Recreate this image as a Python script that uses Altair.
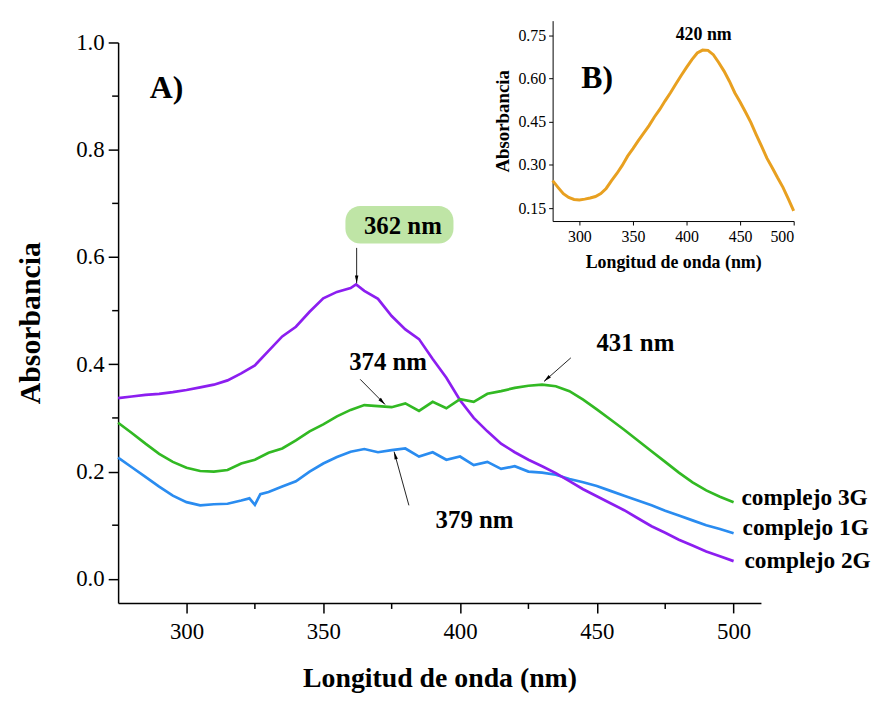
import altair as alt
import pandas as pd

# ---------------- Panel A data ----------------
series_names = ["complejo 1G", "complejo 2G", "complejo 3G"]
series_colors = ["#2A8CF0", "#8C1EF0", "#32B923"]

wl_1g = [275, 280, 285, 290, 295, 300, 305, 310, 315, 320, 323, 325, 327,
         330, 335, 340, 345, 350, 355, 360, 365, 370, 375, 380,
         385, 390, 395, 400, 405, 410, 415, 420, 425, 430, 435, 440,
         445, 450, 455, 460, 465, 470, 475, 480, 485, 490, 495, 500]
abs_1g = [0.226, 0.208, 0.190, 0.172, 0.155, 0.143, 0.137, 0.139, 0.140, 0.146, 0.150, 0.138, 0.158,
          0.162, 0.172, 0.182, 0.200, 0.215, 0.227, 0.237, 0.242, 0.236, 0.240, 0.243,
          0.228, 0.236, 0.222, 0.228, 0.212, 0.218, 0.205, 0.210, 0.200, 0.198, 0.194, 0.186,
          0.180, 0.173, 0.164, 0.155, 0.146, 0.137, 0.127, 0.118, 0.109, 0.100, 0.093, 0.085]

wl_2g = [275, 280, 285, 290, 295, 300, 305, 310, 315, 320, 325, 330, 335, 340, 345, 350,
         355, 360, 362, 365, 370, 375, 380, 385, 390, 395, 400, 405, 410, 415, 420, 425,
         430, 435, 440, 445, 450, 455, 460, 465, 470, 475, 480, 485, 490, 495, 500]
abs_2g = [0.337, 0.340, 0.343, 0.345, 0.348, 0.352, 0.357, 0.362, 0.370, 0.383, 0.398, 0.425,
          0.452, 0.470, 0.498, 0.523, 0.535, 0.542, 0.549, 0.537, 0.522, 0.490, 0.465, 0.447,
          0.410, 0.375, 0.333, 0.300, 0.275, 0.252, 0.236, 0.222, 0.210, 0.197, 0.182, 0.167,
          0.154, 0.141, 0.128, 0.113, 0.098, 0.086, 0.073, 0.062, 0.051, 0.042, 0.033]

wl_3g = list(range(275, 501, 5))
abs_3g = [0.291, 0.272, 0.252, 0.233, 0.218, 0.207, 0.201, 0.200, 0.203, 0.215,
          0.222, 0.235, 0.243, 0.258, 0.275, 0.288, 0.303, 0.315, 0.324, 0.322,
          0.320, 0.327, 0.313, 0.330, 0.318, 0.335, 0.330, 0.345, 0.350, 0.356,
          0.360, 0.362, 0.359, 0.350, 0.334, 0.316, 0.297, 0.278, 0.258, 0.238,
          0.218, 0.198, 0.180, 0.165, 0.153, 0.143]

x_ticks_a = [300, 350, 400, 450, 500]
x_minor_a = [325, 375, 425, 475]
y_ticks_a = [0.0, 0.2, 0.4, 0.6, 0.8, 1.0]
y_minor_a = [0.1, 0.3, 0.5, 0.7, 0.9]

# annotations (data units of panel A)
ann_text = ["374 nm", "379 nm", "431 nm"]
ann_x = [373.7, 405.3, 464.1]
ann_y = [0.405, 0.109, 0.440]

panel_a_label = ["A)"]
panel_a_x = [292.7]
panel_a_y = [0.915]

peak_label = ["362 nm"]
peak_x = [379.1]
peak_y = [0.658]
box_x0, box_x1, box_y0, box_y1 = [358.1], [397.6], [0.625], [0.695]

arrow_x0 = [362.2, 363.5, 381.3, 440.5]
arrow_y0 = [0.617, 0.372, 0.137, 0.412]
arrow_x1 = [362.2, 372.6, 375.9, 430.7]
arrow_y1 = [0.551, 0.325, 0.237, 0.368]
arrow_angle = [180, 135, 344, 228]

legend_x = [502.9, 503.3, 504.0]
legend_y = [0.150, 0.094, 0.033]
legend_text = ["complejo 3G", "complejo 1G", "complejo 2G"]

# ---------------- Panel B data ----------------
wl_b = list(range(275, 501, 5))
abs_b = [0.245, 0.222, 0.200, 0.187, 0.180, 0.178, 0.181, 0.185, 0.190, 0.200,
         0.218, 0.245, 0.270, 0.298, 0.330, 0.356, 0.384, 0.410, 0.436, 0.466,
         0.492, 0.522, 0.550, 0.580, 0.610, 0.638, 0.665, 0.688, 0.698, 0.697,
         0.682, 0.655, 0.625, 0.590, 0.550, 0.518, 0.483, 0.447, 0.405, 0.365,
         0.323, 0.290, 0.255, 0.222, 0.182, 0.140]
x_ticks_b = [300, 350, 400, 450, 500]
y_ticks_b = [0.15, 0.30, 0.45, 0.60, 0.75]
b_text = ["B)", "420 nm"]
b_x = [316.5, 416]
b_y = [0.600, 0.750]

FONT = "Liberation Serif"
W, H = 648, 565

# ---------------- build tables ----------------
rows = []
for name, wl, ab in [("complejo 1G", wl_1g, abs_1g), ("complejo 2G", wl_2g, abs_2g), ("complejo 3G", wl_3g, abs_3g)]:
    for w, a in zip(wl, ab):
        rows.append({"nm": w, "abs": a, "serie": name})
df_main = pd.DataFrame(rows)

def xs():
    return alt.Scale(domain=[275, 510], nice=False, zero=False)

def ys():
    return alt.Scale(domain=[-0.045, 1.0], nice=False, zero=False)

x_axis = alt.Axis(title="Longitud de onda (nm)", values=x_ticks_a,
                  tickSize=10, tickWidth=1.5, tickColor="black", domainColor="black", domainWidth=1.5,
                  labelFont=FONT, labelFontSize=23, labelColor="black", labelPadding=8,
                  titleFont=FONT, titleFontSize=28, titleFontWeight="bold", titleColor="black",
                  titlePadding=21)
y_axis = alt.Axis(title="Absorbancia", values=y_ticks_a, format=".1f",
                  tickSize=10, tickWidth=1.5, tickColor="black", domainColor="black", domainWidth=1.5,
                  labelFont=FONT, labelFontSize=23, labelColor="black", labelPadding=4,
                  titleFont=FONT, titleFontSize=30, titleFontWeight="bold", titleColor="black",
                  titlePadding=30)

lines = alt.Chart(df_main).mark_line(strokeWidth=2.7).encode(
    x=alt.X("nm:Q", scale=xs(), axis=x_axis),
    y=alt.Y("abs:Q", scale=ys(), axis=y_axis),
    color=alt.Color("serie:N", scale=alt.Scale(domain=series_names, range=series_colors), legend=None),
)

minor_x = alt.Chart(pd.DataFrame({"nm": x_minor_a})).mark_rule(color="black", strokeWidth=1.5).encode(
    x=alt.X("nm:Q", scale=xs(), axis=None), y=alt.value(H), y2=alt.value(H + 6))
minor_y = alt.Chart(pd.DataFrame({"abs": y_minor_a})).mark_rule(color="black", strokeWidth=1.5).encode(
    y=alt.Y("abs:Q", scale=ys(), axis=None), x=alt.value(0), x2=alt.value(-6))

box = alt.Chart(pd.DataFrame({"nm": box_x0, "nm2": box_x1, "abs": box_y0, "abs2": box_y1})).mark_rect(
    cornerRadius=15, color="#bfe5a6").encode(
    x=alt.X("nm:Q", scale=xs(), axis=None), x2="nm2:Q",
    y=alt.Y("abs:Q", scale=ys(), axis=None), y2="abs2:Q")

peak_txt = alt.Chart(pd.DataFrame({"nm": peak_x, "abs": peak_y, "t": peak_label})).mark_text(
    font=FONT, fontSize=25, fontWeight="bold", color="black", align="center", baseline="middle").encode(
    x=alt.X("nm:Q", scale=xs(), axis=None), y=alt.Y("abs:Q", scale=ys(), axis=None), text="t:N")

ann = alt.Chart(pd.DataFrame({"nm": ann_x, "abs": ann_y, "t": ann_text})).mark_text(
    font=FONT, fontSize=25, fontWeight="bold", color="black", align="center", baseline="middle").encode(
    x=alt.X("nm:Q", scale=xs(), axis=None), y=alt.Y("abs:Q", scale=ys(), axis=None), text="t:N")

a_txt = alt.Chart(pd.DataFrame({"nm": panel_a_x, "abs": panel_a_y, "t": panel_a_label})).mark_text(
    font=FONT, fontSize=32, fontWeight="bold", color="black", align="center", baseline="middle").encode(
    x=alt.X("nm:Q", scale=xs(), axis=None), y=alt.Y("abs:Q", scale=ys(), axis=None), text="t:N")

df_arr = pd.DataFrame({"nm": arrow_x0, "abs": arrow_y0, "nm2": arrow_x1, "abs2": arrow_y1, "ang": arrow_angle})
arrow_lines = alt.Chart(df_arr).mark_rule(color="#222222", strokeWidth=1).encode(
    x=alt.X("nm:Q", scale=xs(), axis=None), x2="nm2:Q",
    y=alt.Y("abs:Q", scale=ys(), axis=None), y2="abs2:Q")
arrow_heads = alt.Chart(df_arr).mark_point(
    shape="M0,0L-0.45,2L0.45,2Z", filled=True, size=60, color="black", opacity=1).encode(
    x=alt.X("nm2:Q", scale=xs(), axis=None), y=alt.Y("abs2:Q", scale=ys(), axis=None),
    angle=alt.Angle("ang:Q", scale=None))

legend_txt = alt.Chart(pd.DataFrame({"nm": legend_x, "abs": legend_y, "t": legend_text})).mark_text(
    font=FONT, fontSize=23.5, fontWeight="bold", color="black", align="left", baseline="middle").encode(
    x=alt.X("nm:Q", scale=xs(), axis=None), y=alt.Y("abs:Q", scale=ys(), axis=None), text="t:N")

# ---------------- inset (panel B) ----------------
def xs_b():
    return alt.Scale(domain=[275, 500], range=[438, 681], nice=False, zero=False)

def ys_b():
    return alt.Scale(domain=[0.105, 0.80], range=[180, -22], nice=False, zero=False)

xb_axis = alt.Axis(orient="bottom", offset=-(H - 180), title="Longitud de onda (nm)", values=x_ticks_b,
                   tickSize=4, tickColor="black", domainColor="black", domainWidth=1,
                   labelFont=FONT, labelFontSize=16, labelColor="black", labelPadding=4,
                   titleFont=FONT, titleFontSize=18, titleFontWeight="bold", titleColor="black",
                   titlePadding=9)
yb_axis = alt.Axis(orient="left", offset=-438, title="Absorbancia", values=y_ticks_b, format=".2f",
                   tickSize=4, tickColor="black", domainColor="black", domainWidth=1,
                   labelFont=FONT, labelFontSize=16, labelColor="black", labelPadding=3,
                   titleFont=FONT, titleFontSize=19, titleFontWeight="bold", titleColor="black",
                   titlePadding=5)

df_b = pd.DataFrame({"wlb": wl_b, "absb": abs_b})
line_b = alt.Chart(df_b).mark_line(color="#E8A020", strokeWidth=3).encode(
    x=alt.X("wlb:Q", scale=xs_b(), axis=xb_axis), y=alt.Y("absb:Q", scale=ys_b(), axis=yb_axis))
txt_b = alt.Chart(pd.DataFrame({"wlb": b_x, "absb": b_y, "t": b_text})).mark_text(
    font=FONT, fontWeight="bold", color="black", align="center", baseline="middle").encode(
    x=alt.X("wlb:Q", scale=xs_b(), axis=None), y=alt.Y("absb:Q", scale=ys_b(), axis=None), text="t:N",
    size=alt.condition(alt.datum.t == "B)", alt.value(32), alt.value(18)))

chart = alt.layer(
    lines, minor_x, minor_y, box, peak_txt, ann, a_txt, arrow_lines, arrow_heads, legend_txt, line_b, txt_b
).resolve_scale(
    x="independent", y="independent"
).properties(
    width=W, height=H,
    autosize=alt.AutoSizeParams(type="none"),
    padding={"left": 111, "top": 32, "right": 118, "bottom": 89},
    background="white",
).configure_view(stroke=None).configure_axis(grid=False)

chart.save("out.html", embed_options={"renderer": "svg", "actions": False})
